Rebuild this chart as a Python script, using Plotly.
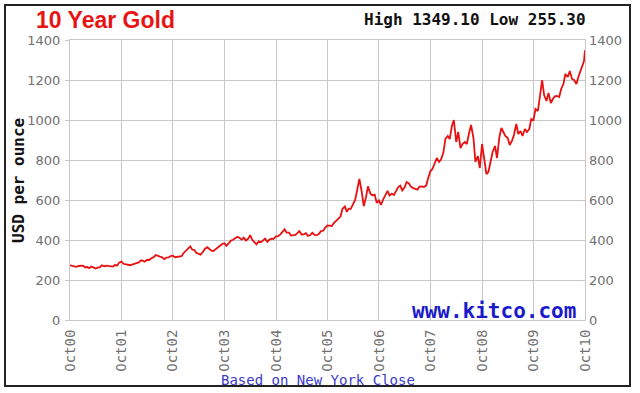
import plotly.graph_objects as go
import pandas as pd

# Gold price (USD/oz), sampled on the 1st and 15th of each month, Oct 2000 .. Sep 2010
prices_2000 = [273, 271, 265, 266, 270, 272]
prices_2001 = [272, 264, 265, 259, 267, 263, 257, 262, 264, 273, 268, 272,
               270, 266, 267, 275, 273, 287, 292, 281, 279, 274, 274, 277]
prices_2002 = [279, 284, 288, 298, 297, 292, 301, 300, 309, 313, 325, 320,
               317, 314, 304, 312, 313, 320, 322, 314, 317, 320, 319, 334]
prices_2003 = [347, 355, 368, 352, 351, 336, 332, 327, 340, 355, 364, 354,
               347, 345, 355, 360, 374, 380, 384, 371, 384, 396, 401, 410]
prices_2004 = [416, 411, 402, 412, 398, 405, 424, 401, 388, 378, 393, 389,
               397, 407, 391, 402, 407, 406, 418, 419, 428, 438, 453, 437]
prices_2005 = [437, 422, 423, 425, 434, 444, 427, 428, 434, 420, 425, 436,
               425, 424, 430, 444, 446, 462, 473, 472, 470, 485, 495, 505]
prices_2006 = [517, 555, 568, 541, 557, 556, 584, 600, 655, 705, 640, 569,
               613, 668, 632, 624, 626, 586, 598, 576, 604, 622, 646, 622]
prices_2007 = [632, 625, 650, 665, 672, 648, 663, 690, 683, 667, 659, 656,
               652, 667, 668, 665, 672, 710, 745, 755, 790, 810, 790, 802]
prices_2008 = [838, 906, 920, 905, 970, 1000, 890, 940, 860, 880, 890, 880,
               935, 975, 910, 790, 820, 760, 880, 820, 730, 740, 790, 840]
prices_2009 = [870, 810, 915, 960, 940, 920, 910, 875, 895, 925, 980, 930,
               945, 920, 955, 940, 955, 1005, 1000, 1055, 1045, 1115, 1200, 1125]
prices_2010 = [1095, 1135, 1085, 1105, 1118, 1120, 1115, 1155, 1180, 1230,
               1215, 1245, 1205, 1200, 1180, 1215, 1245, 1270]
final_dates = ["2010-09-24", "2010-10-01"]
final_prices = [1295, 1349.10]

tick_dates = ["2000-10-01", "2001-10-01", "2002-10-01", "2003-10-01", "2004-10-01",
              "2005-10-01", "2006-10-01", "2007-10-01", "2008-10-01", "2009-10-01",
              "2010-10-01"]
tick_labels = ["Oct00", "Oct01", "Oct02", "Oct03", "Oct04", "Oct05", "Oct06",
               "Oct07", "Oct08", "Oct09", "Oct10"]
y_ticks = [0, 200, 400, 600, 800, 1000, 1200, 1400]

dates = list(pd.date_range("2000-10-01", "2010-09-15", freq="SMS").strftime("%Y-%m-%d")) + final_dates
prices = (prices_2000 + prices_2001 + prices_2002 + prices_2003 + prices_2004 +
          prices_2005 + prices_2006 + prices_2007 + prices_2008 + prices_2009 +
          prices_2010 + final_prices)

W, H = 640, 393
L, R, T, B = 70, 55, 40, 73
PW, PH = W - L - R, H - T - B


def px(x):
    return (x - L) / PW


def py(y):
    return (H - B - y) / PH


GRID = "#c8c8c8"
TICKFONT = dict(family="DejaVu Sans", size=13, color="#707070")

fig = go.Figure()
fig.add_trace(go.Scatter(x=dates, y=prices, mode="lines",
                         line=dict(color="#e81010", width=1.8),
                         hoverinfo="skip", showlegend=False))
fig.add_trace(go.Scatter(x=dates, y=prices, mode="lines", yaxis="y2",
                         line=dict(color="rgba(0,0,0,0)", width=0),
                         hoverinfo="skip", showlegend=False))

fig.update_layout(
    width=W, height=H,
    margin=dict(l=L, r=R, t=T, b=B),
    paper_bgcolor="white", plot_bgcolor="white",
    xaxis=dict(range=[tick_dates[0], tick_dates[-1]], tickvals=tick_dates,
               ticktext=tick_labels, tickangle=-90,
               tickfont=dict(family="DejaVu Sans Mono", size=14, color="#707070"),
               showgrid=True, gridcolor=GRID, gridwidth=1,
               showline=True, linecolor=GRID, linewidth=1, mirror=True,
               ticks="", ticklabelstandoff=3, zeroline=False),
    yaxis=dict(range=[0, 1400], tickvals=y_ticks, tickfont=TICKFONT,
               showgrid=True, gridcolor=GRID, gridwidth=1,
               showline=True, linecolor=GRID, linewidth=1, mirror=True,
               ticks="outside", ticklen=4, tickcolor=GRID,
               ticklabelstandoff=2, zeroline=False),
    yaxis2=dict(range=[0, 1400], tickvals=y_ticks, tickfont=TICKFONT,
                overlaying="y", side="right", showgrid=False,
                showline=False, ticks="", ticklabelstandoff=3, zeroline=False),
)

anns = [
    dict(text="<b>10 Year Gold</b>", x=px(34), y=py(20), xanchor="left", yanchor="middle",
         font=dict(family="Liberation Sans", size=23, color="#e81414")),
    dict(text="<b>High 1349.10 Low 255.30</b>", x=px(588), y=py(19), xanchor="right",
         yanchor="middle", font=dict(family="DejaVu Sans Mono", size=16, color="#111111")),
    dict(text="<b>USD per ounce</b>", x=px(18), y=py(181), xanchor="center", yanchor="middle",
         textangle=-90, font=dict(family="DejaVu Sans Mono", size=16, color="#111111")),
    dict(text="<b>www.kitco.com</b>", x=px(578), y=py(311), xanchor="right", yanchor="middle",
         font=dict(family="DejaVu Sans Mono", size=21, color="#1a1acc")),
    dict(text="Based on New York Close", x=px(318), y=py(380), xanchor="center",
         yanchor="middle", font=dict(family="DejaVu Sans Mono", size=14, color="#3a3acc")),
]
for a in anns:
    fig.add_annotation(xref="paper", yref="paper", showarrow=False, **a)

fig.add_shape(type="rect", xref="paper", yref="paper",
              x0=px(5), x1=px(630), y0=py(386), y1=py(5),
              line=dict(color="#222222", width=2), fillcolor="rgba(0,0,0,0)", layer="above")

fig.write_html("out.html", config={"displayModeBar": False},
               post_script="document.body.style.margin='0';")
